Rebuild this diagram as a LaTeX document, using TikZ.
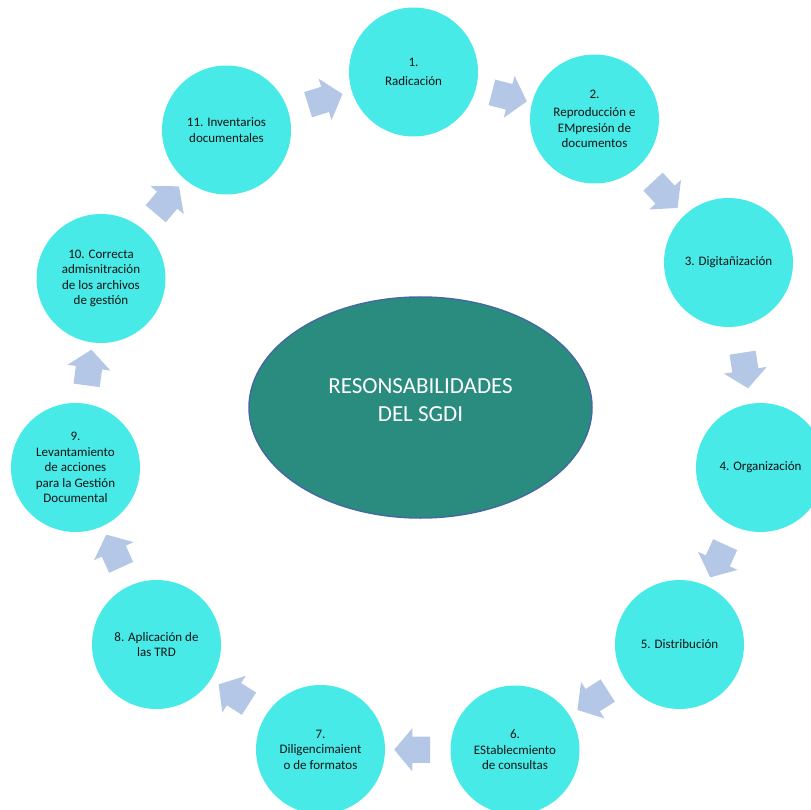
\documentclass[tikz,border=0pt]{standalone}
\usepackage{fontspec}
\setmainfont{Carlito}
\usetikzlibrary{shapes.geometric,shapes.arrows,calc}
\definecolor{cyanfill}{RGB}{72,234,232}
\definecolor{tealfill}{RGB}{42,139,127}
\definecolor{ellborder}{RGB}{68,106,160}
\definecolor{arrowfill}{RGB}{180,199,231}
\definecolor{txtdark}{RGB}{20,20,20}
\begin{document}
\begin{tikzpicture}[x=1pt,y=-1pt,
  stepcirc/.style={circle, fill=cyanfill, minimum size=129pt, inner sep=0pt,
    align=center, text=txtdark, font=\fontsize{13}{15.5}\selectfont},
  blockarr/.style={single arrow, fill=arrowfill, minimum height=36pt,
    minimum width=0pt, inner xsep=0pt, inner ysep=13pt,
    single arrow head extend=8.5pt, single arrow tip angle=100,
    sloped, allow upside down, midway}]
\useasboundingbox (0,0) rectangle (811,810);
\clip (0,0) rectangle (811,810);

\node[ellipse, fill=tealfill, draw=ellborder, line width=1.5pt,
  minimum width=343pt, minimum height=221pt, inner sep=0pt, text=white,
  align=center, font=\fontsize{23}{28}\selectfont, text depth=14pt]
  (center) at (420.5,407.5) {RESONSABILIDADES\\DEL SGDI};

\node[stepcirc] (c1) at (413.5,72) {1.\\[4pt]Radicación};
\node[stepcirc] (c2) at (594.5,119) {2.\\[3pt]Reproducción e\\EMpresión de\\documentos};
\node[stepcirc] (c3) at (728.5,262.5) {3. Digitañización};
\node[stepcirc] (c4) at (760.5,467.5) {4. Organización};
\node[stepcirc] (c5) at (679.5,644.5) {5. Distribución};
\node[stepcirc] (c6) at (515,750) {6.\\EStablecmiento\\de consultas};
\node[stepcirc] (c7) at (320.5,749.5) {7.\\Diligencimaient\\o de formatos};
\node[stepcirc] (c8) at (156.5,644.5) {8. Aplicación de\\las TRD};
\node[stepcirc] (c9) at (75.5,467.5) {9.\\Levantamiento\\de acciones\\para la Gestión\\Documental};
\node[stepcirc] (c10) at (101,278.5) {10. Correcta\\admisnitración\\de los archivos\\de gestión};
\node[stepcirc] (c11) at (226.5,130) {11. Inventarios\\documentales};

\path (c11.center) -- node[blockarr] (a11) {} (c1.center);
\path (c1.center) -- node[blockarr] (a1) {} (c2.center);
\path (c2.center) -- node[blockarr] (a2) {} (c3.center);
\path (c3.center) -- node[blockarr] (a3) {} (c4.center);
\path (c4.center) -- node[blockarr] (a4) {} (c5.center);
\path (c5.center) -- node[blockarr] (a5) {} (c6.center);
\path (c6.center) -- node[blockarr] (a6) {} (c7.center);
\path (c7.center) -- node[blockarr] (a7) {} (c8.center);
\path (c8.center) -- node[blockarr] (a8) {} (c9.center);
\path (c9.center) -- node[blockarr] (a9) {} (c10.center);
\path (c10.center) -- node[blockarr] (a10) {} (c11.center);
\end{tikzpicture}
\end{document}
